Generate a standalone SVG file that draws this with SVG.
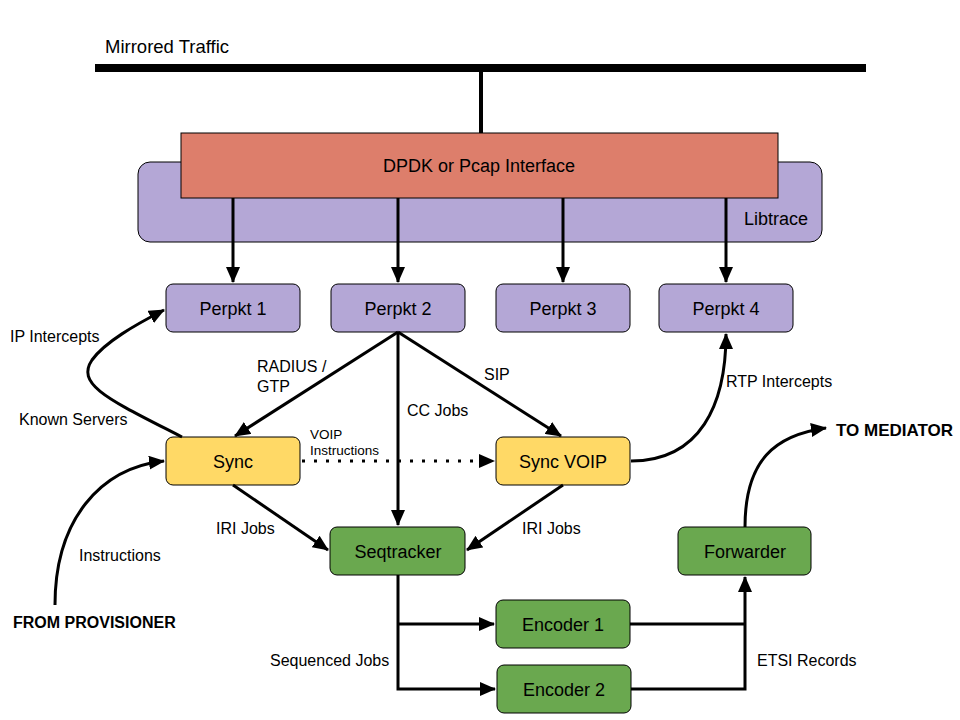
<svg xmlns="http://www.w3.org/2000/svg" width="960" height="720" viewBox="0 0 960 720">
<defs>
<marker id="ahb" markerWidth="16" markerHeight="14" refX="15" refY="7" orient="auto" markerUnits="userSpaceOnUse" viewBox="0 0 16 14">
<path d="M0,0 L16,7 L0,14 Z" fill="#000"/>
</marker>
</defs>
<style>
.n{stroke:#000;stroke-width:1}
.pp{fill:#b4a7d6}
.ye{fill:#ffd966}
.gr{fill:#6aa84f}
.t{font-family:"Liberation Sans",Arial,sans-serif;font-size:18px;fill:#000;text-anchor:middle;dominant-baseline:central}
.l{font-family:"Liberation Sans",Arial,sans-serif;font-size:16px;fill:#000}
.s{font-family:"Liberation Sans",Arial,sans-serif;font-size:13.5px;fill:#000}
.b{font-family:"Liberation Sans",Arial,sans-serif;font-size:16px;font-weight:bold;fill:#000}
.c{fill:none;stroke:#000;stroke-width:3}
</style>
<rect width="960" height="720" fill="#fff"/>
<text class="l" x="105" y="53" style="font-size:18.5px">Mirrored Traffic</text>
<g id="bus">
<rect x="95" y="64" width="771" height="8" fill="#000"/>
<line x1="481" y1="68" x2="481" y2="133" stroke="#000" stroke-width="4"/>
</g>
<g id="libtrace">
<rect class="n pp" x="138" y="162" width="684" height="80" rx="12"/>
<text class="t" x="776" y="219">Libtrace</text>
</g>
<g id="dpdk">
<rect class="n" x="181" y="133" width="597" height="65" fill="#dd7e6b"/>
<text class="t" x="479" y="166">DPDK or Pcap Interface</text>
</g>
<g id="perpkt1"><rect class="n pp" x="166" y="284" width="134" height="48" rx="7"/><text class="t" x="233" y="309">Perpkt 1</text></g>
<g id="perpkt2"><rect class="n pp" x="331" y="284" width="134" height="48" rx="7"/><text class="t" x="398" y="309">Perpkt 2</text></g>
<g id="perpkt3"><rect class="n pp" x="496" y="284" width="134" height="48" rx="7"/><text class="t" x="563" y="309">Perpkt 3</text></g>
<g id="perpkt4"><rect class="n pp" x="659" y="284" width="134" height="48" rx="7"/><text class="t" x="726" y="309">Perpkt 4</text></g>
<g id="sync"><rect class="n ye" x="166" y="437" width="134" height="48" rx="7"/><text class="t" x="233" y="462">Sync</text></g>
<g id="syncvoip"><rect class="n ye" x="496" y="437" width="134" height="48" rx="7"/><text class="t" x="563" y="462">Sync VOIP</text></g>
<g id="seqtracker"><rect class="n gr" x="330" y="527" width="135" height="48" rx="7"/><text class="t" x="398" y="552">Seqtracker</text></g>
<g id="forwarder"><rect class="n gr" x="678" y="527" width="133" height="48" rx="7"/><text class="t" x="745" y="552">Forwarder</text></g>
<g id="encoder1"><rect class="n gr" x="496" y="600" width="134" height="48" rx="7"/><text class="t" x="563" y="625">Encoder 1</text></g>
<g id="encoder2"><rect class="n gr" x="497" y="665" width="134" height="48" rx="7"/><text class="t" x="564" y="690">Encoder 2</text></g>
<g id="connectors">
<line class="c" x1="233" y1="198" x2="233" y2="282" marker-end="url(#ahb)"/>
<line class="c" x1="398" y1="198" x2="398" y2="282" marker-end="url(#ahb)"/>
<line class="c" x1="563" y1="198" x2="563" y2="282" marker-end="url(#ahb)"/>
<line class="c" x1="726" y1="198" x2="726" y2="282" marker-end="url(#ahb)"/>
<line class="c" x1="398" y1="332" x2="235" y2="436" marker-end="url(#ahb)"/>
<line class="c" x1="398" y1="332" x2="398" y2="525" marker-end="url(#ahb)"/>
<line class="c" x1="398" y1="332" x2="561" y2="436" marker-end="url(#ahb)"/>
<line x1="302" y1="461" x2="494" y2="461" stroke="#000" stroke-width="3" stroke-dasharray="3,9" marker-end="url(#ahb)"/>
<line class="c" x1="233" y1="485" x2="328" y2="550" marker-end="url(#ahb)"/>
<line class="c" x1="563" y1="485" x2="467" y2="550" marker-end="url(#ahb)"/>
<path class="c" d="M631,461 C700,461 726,405 726,334" marker-end="url(#ahb)"/>
<path class="c" d="M182,437 C110,400 75,385 92,360 C105,342 135,325 164,310" marker-end="url(#ahb)"/>
<path class="c" d="M55,605 C55,520 100,468 164,461" marker-end="url(#ahb)"/>
<path class="c" d="M745,527 C745,460 775,435 826,428" marker-end="url(#ahb)"/>
<path class="c" d="M398,575 L398,689 L495,689" marker-end="url(#ahb)"/>
<path class="c" d="M398,624 L494,624" marker-end="url(#ahb)"/>
<path class="c" d="M630,624 L745,624"/>
<path class="c" d="M631,689 L745,689 L745,577" marker-end="url(#ahb)"/>
</g>
<g id="labels">
<text class="l" x="257" y="372">RADIUS /</text>
<text class="l" x="257" y="392">GTP</text>
<text class="l" x="407" y="416">CC Jobs</text>
<text class="l" x="484" y="380">SIP</text>
<text class="s" x="310" y="439">VOIP</text>
<text class="s" x="310" y="455">Instructions</text>
<text class="l" x="216" y="534">IRI Jobs</text>
<text class="l" x="522" y="534">IRI Jobs</text>
<text class="l" x="726" y="387">RTP Intercepts</text>
<text class="l" x="10" y="342">IP Intercepts</text>
<text class="l" x="19" y="425">Known Servers</text>
<text class="l" x="79" y="561">Instructions</text>
<text class="b" x="13" y="628">FROM PROVISIONER</text>
<text class="b" x="836" y="436" style="font-size:17px">TO MEDIATOR</text>
<text class="l" x="270" y="666">Sequenced Jobs</text>
<text class="l" x="757" y="666">ETSI Records</text>
</g>
</svg>
